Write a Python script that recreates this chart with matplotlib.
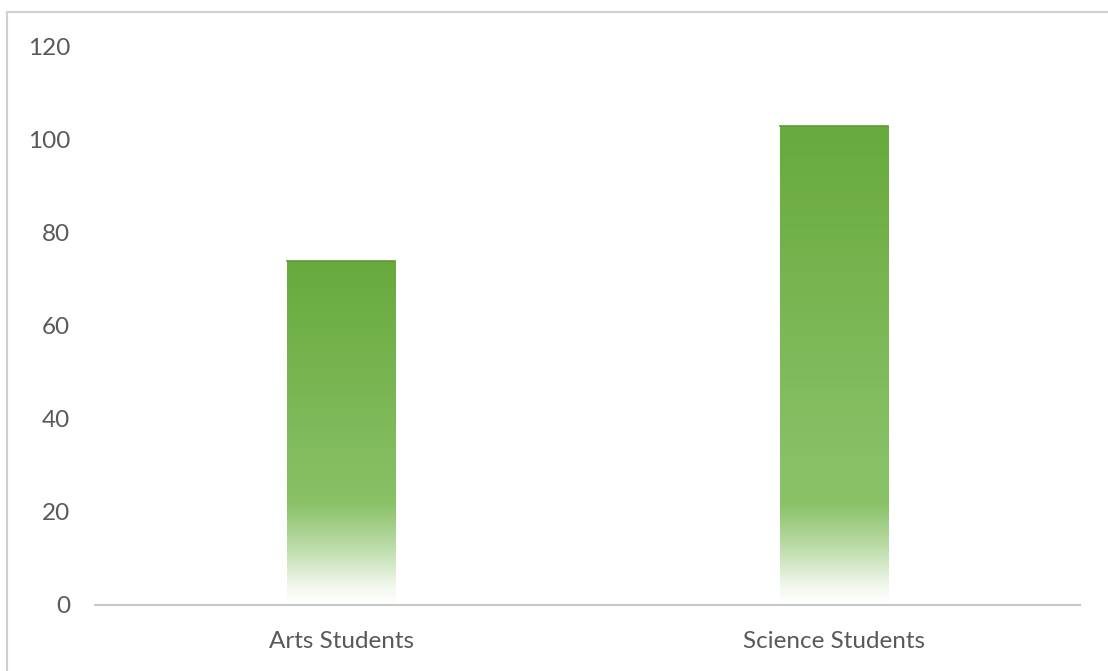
import numpy as np
import matplotlib.pyplot as plt
from matplotlib.colors import to_rgb
from matplotlib.patches import Rectangle

groups = ["Arts Students", "Science Students"]
counts = [74, 103]
yticks = [0, 20, 40, 60, 80, 100, 120]

plt.rcParams['font.family'] = ['Lato', 'DejaVu Sans']

fig = plt.figure(figsize=(11.08, 6.71), dpi=100)
ax = fig.add_axes([0.0857, 0.0984, 0.889, 0.8316])

top_col = np.array(to_rgb("#68aa3d"))
mid_col = np.array(to_rgb("#88c166"))


def bar_fill(h, n=300):
    # darker green at the top, washing out to white near the baseline
    y = np.linspace(0, h, n)
    r = np.clip((y / h - 0.3) / 0.7, 0, 1)[:, None]
    base = mid_col * (1 - r) + top_col * r
    w = np.interp(y, [0, 4, 12, 22], [1.0, 0.88, 0.45, 0.0])[:, None]
    rgb = base * (1 - w) + w
    return rgb[:, None, :]


x = np.arange(len(groups))
width = 0.22
bars = ax.bar(x, counts, width=width, color="none", edgecolor="none")
for b in bars:
    x0, w, h = b.get_x(), b.get_width(), b.get_height()
    im = ax.imshow(bar_fill(h), origin="lower", aspect="auto",
                   extent=(x0, x0 + w, 0, h), zorder=2)
    im.set_clip_path(b)
    ax.plot([x0, x0 + w], [h, h], color="#5e9a38", lw=1.2, zorder=3)

ax.set_xlim(-0.5, 1.5)
ax.set_ylim(0, 120)
ax.set_xticks(x)
ax.set_xticklabels(groups)
ax.set_yticks(yticks)
ax.tick_params(axis="x", length=0, pad=19, labelsize=17.5, labelcolor="#595959")
ax.tick_params(axis="y", length=0, pad=18, labelsize=17.5, labelcolor="#595959")

for s in ["top", "right", "left"]:
    ax.spines[s].set_visible(False)
ax.spines["bottom"].set_color("#c8c8c8")
ax.spines["bottom"].set_linewidth(1.5)

# light frame around the chart area
fig.patches.append(Rectangle((7 / 1108, -0.01), 1.02, 1 - 12 / 671 + 0.01,
                             transform=fig.transFigure, fill=False,
                             edgecolor="#d0d0d0", linewidth=1.5))

fig.savefig("out.png", dpi=100)
